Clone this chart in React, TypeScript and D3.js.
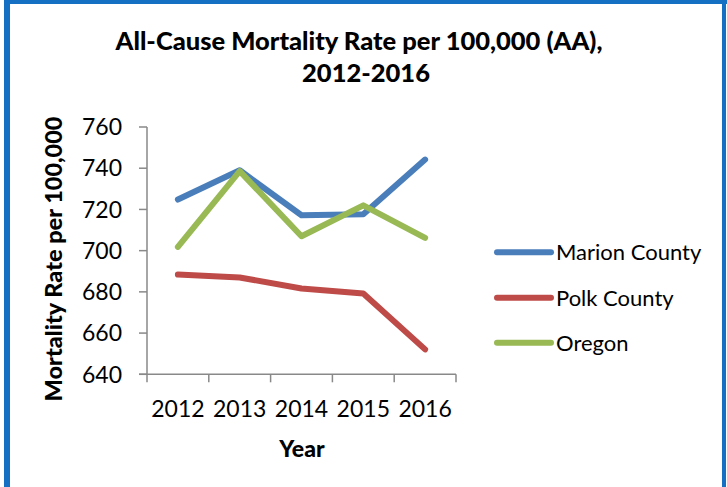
import React from "react";
import * as d3 from "d3";

const years = ["2012", "2013", "2014", "2015", "2016"];
const marion = [724.8, 739.0, 717.2, 717.7, 744.2];
const polk = [688.4, 687.0, 681.6, 679.2, 652.1];
const oregon = [701.8, 738.6, 707.0, 722.0, 706.2];
const yTicks = [640, 660, 680, 700, 720, 740, 760];
const seriesNames = ["Marion County", "Polk County", "Oregon"];
const seriesColors = ["#4A7EBB", "#BE4B48", "#98B954"];
const titleLines = ["All-Cause Mortality Rate per 100,000 (AA),", "2012-2016"];
const yAxisTitle = "Mortality Rate per 100,000";
const xAxisTitle = "Year";

const W = 727;
const H = 487;
const plot = { left: 147, right: 456, top: 127, bottom: 374.3 };
const FONT = "Lato, 'Open Sans', sans-serif";

export default function App() {
  const x = d3.scaleBand<string>().domain(years).range([plot.left, plot.right]);
  const y = d3.scaleLinear().domain([640, 760]).range([plot.bottom, plot.top]);
  const line = d3
    .line<number>()
    .x((_, i) => (x(years[i]) as number) + x.bandwidth() / 2)
    .y((d) => y(d));
  const data = [marion, polk, oregon];
  const axisColor = "#898989";
  const xTickPos = years.map((yr) => x(yr) as number).concat([plot.right]);
  const legendY = [252.3, 297.7, 342.7];

  return (
    <svg
      width={W}
      height={H}
      style={{ position: "absolute", left: 0, top: 0, background: "#fff" }}
      fontFamily={FONT}
    >
      <rect x={0} y={0} width={W} height={H} fill="#fff" />
      {/* frame */}
      <rect x={4} y={0} width={723} height={4} fill="#1570C4" />
      <rect x={4} y={0} width={6} height={H} fill="#1570C4" />
      <rect x={722} y={0} width={4} height={H} fill="#1570C4" />

      {/* title */}
      <text x={359} y={50} textAnchor="middle" fontSize={25.5} fontWeight={900} fill="#000">
        {titleLines[0]}
      </text>
      <text x={366} y={82} textAnchor="middle" fontSize={25.5} fontWeight={900} fill="#000">
        {titleLines[1]}
      </text>

      {/* y axis */}
      <line x1={plot.left} x2={plot.left} y1={plot.top} y2={plot.bottom} stroke={axisColor} strokeWidth={1.5} />
      {yTicks.map((t) => (
        <g key={t}>
          <line x1={plot.left - 8} x2={plot.left} y1={y(t)} y2={y(t)} stroke={axisColor} strokeWidth={1.5} />
          <text x={122} y={y(t)} dy="0.36em" textAnchor="end" fontSize={23} fill="#000">
            {t}
          </text>
        </g>
      ))}

      {/* x axis */}
      <line x1={plot.left - 8} x2={plot.right} y1={plot.bottom} y2={plot.bottom} stroke={axisColor} strokeWidth={1.5} />
      {xTickPos.map((p, i) => (
        <line key={i} x1={p} x2={p} y1={plot.bottom} y2={plot.bottom + 8} stroke={axisColor} strokeWidth={1.5} />
      ))}
      {years.map((yr) => (
        <text
          key={yr}
          x={(x(yr) as number) + x.bandwidth() / 2}
          y={417}
          textAnchor="middle"
          fontSize={23}
          fill="#000"
        >
          {yr}
        </text>
      ))}

      {/* axis titles */}
      <text x={302} y={457} textAnchor="middle" fontSize={23} fontWeight={900} fill="#000">
        {xAxisTitle}
      </text>
      <text
        transform={`translate(62, 259) rotate(-90)`}
        textAnchor="middle"
        fontSize={23.5}
        fontWeight={900}
        fill="#000"
      >
        {yAxisTitle}
      </text>

      {/* lines */}
      {data.map((s, i) => (
        <path
          key={i}
          d={line(s) || ""}
          fill="none"
          stroke={seriesColors[i]}
          strokeWidth={6}
          strokeLinecap="round"
          strokeLinejoin="round"
        />
      ))}

      {/* legend */}
      {seriesNames.map((n, i) => (
        <g key={n}>
          <line
            x1={497}
            x2={551}
            y1={legendY[i]}
            y2={legendY[i]}
            stroke={seriesColors[i]}
            strokeWidth={6}
            strokeLinecap="round"
          />
          <text x={556} y={legendY[i]} dy="0.36em" fontSize={22} fill="#000">
            {n}
          </text>
        </g>
      ))}
    </svg>
  );
}
